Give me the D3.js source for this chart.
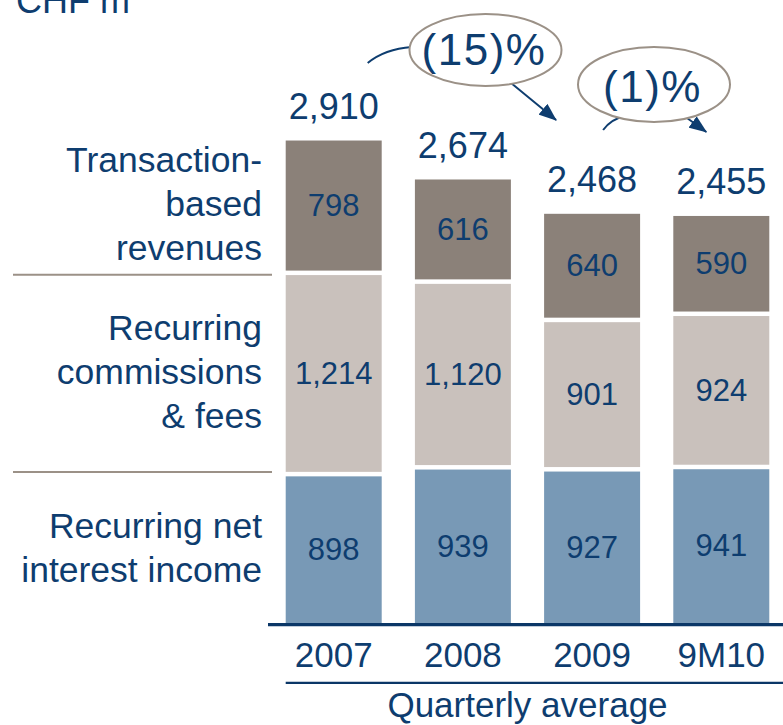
<!DOCTYPE html>
<html>
<head>
<meta charset="utf-8">
<script src="https://cdn.jsdelivr.net/npm/d3@7"></script>
<style>
  html, body { margin: 0; padding: 0; background: #fff; }
  svg { display: block; }
  text { font-family: "Liberation Sans", Arial, Helvetica, sans-serif; fill: #0e3d6f; }
</style>
</head>
<body>
<svg id="chart" width="783" height="725"></svg>
<script>
// ---- data ----
const categories = ["2007", "2008", "2009", "9M10"];
const netInterest = [898, 939, 927, 941];
const commissions = [1214, 1120, 901, 924];
const transaction = [798, 616, 640, 590];
const totals = [2910, 2674, 2468, 2455];
const seriesLabels = [
  ["Recurring net", "interest income"],
  ["Recurring", "commissions", "& fees"],
  ["Transaction-", "based", "revenues"]
];
const changeLabels = ["(15)%", "(1)%"];
const unitLabel = "CHF m";
const axisNote = "Quarterly average";

// ---- styles ----
const colors = ["#7899b6", "#c9c1bc", "#8b8179"];
const navy = "#0e3d6f";
const taupe = "#9b9187";

const svg = d3.select("#chart");
const W = 783, H = 725;

const x = d3.scaleBand()
  .domain(categories)
  .range([269.1, 785.9])
  .paddingInner(0.257)
  .paddingOuter(0.1285);

const y = d3.scaleLinear().domain([0, 3000]).range([623, 125.6]);

const seriesVals = [netInterest, commissions, transaction];
const gap = 4.5;

// stack
const rows = categories.map((c, i) => ({ cat: c, s0: netInterest[i], s1: commissions[i], s2: transaction[i] }));
const stack = d3.stack().keys(["s0", "s1", "s2"])(rows);

const segs = [];
stack.forEach((layer, li) => {
  layer.forEach((d, ci) => {
    const top = y(d[1]) + (li < stack.length - 1 ? gap / 2 : 0);
    const bottom = y(d[0]) - (li > 0 ? gap / 2 : 0);
    segs.push({ li, ci, cat: categories[ci], v: seriesVals[li][ci], top, bottom });
  });
});

// bars
svg.append("g").selectAll("rect").data(segs).join("rect")
  .attr("x", d => x(d.cat))
  .attr("width", x.bandwidth())
  .attr("y", d => d.top)
  .attr("height", d => d.bottom - d.top)
  .attr("fill", d => colors[d.li]);

// segment labels
svg.append("g").selectAll("text").data(segs).join("text")
  .attr("x", d => x(d.cat) + x.bandwidth() / 2)
  .attr("y", d => (d.top + d.bottom) / 2)
  .attr("dy", "0.33em")
  .attr("text-anchor", "middle")
  .style("font-size", "31px")
  .text(d => d3.format(",")(d.v));

// total labels
svg.append("g").selectAll("text").data(categories).join("text")
  .attr("x", d => x(d) + x.bandwidth() / 2)
  .attr("y", (d, i) => y(totals[i]) - 22)
  .attr("text-anchor", "middle")
  .style("font-size", "36px")
  .text((d, i) => d3.format(",")(totals[i]));

// baseline axis
svg.append("line")
  .attr("x1", 268).attr("x2", W)
  .attr("y1", y(0) + 1.6).attr("y2", y(0) + 1.6)
  .attr("stroke", "#0b3767").attr("stroke-width", 3.2);

// category labels
svg.append("g").selectAll("text").data(categories).join("text")
  .attr("x", d => x(d) + x.bandwidth() / 2)
  .attr("y", 667)
  .attr("text-anchor", "middle")
  .style("font-size", "35px")
  .text(d => d);

// quarterly average line + label
const xStart = x(categories[0]);
svg.append("line")
  .attr("x1", xStart).attr("x2", W)
  .attr("y1", 682.8).attr("y2", 682.8)
  .attr("stroke", "#0b3767").attr("stroke-width", 2.2);
svg.append("text")
  .attr("x", (xStart + x(categories[3]) + x.bandwidth()) / 2)
  .attr("y", 717)
  .attr("text-anchor", "middle")
  .style("font-size", "35px")
  .text(axisNote);

// left series labels (aligned to first bar segments)
const firstSegs = segs.filter(d => d.ci === 0);
firstSegs.forEach(s => {
  const lines = seriesLabels[s.li];
  const cy = (s.top + s.bottom) / 2;
  const n = lines.length;
  svg.append("g").selectAll("text").data(lines).join("text")
    .attr("x", 262)
    .attr("y", (d, j) => cy + (j - (n - 1) / 2) * 44)
    .attr("dy", "0.3em")
    .attr("text-anchor", "end")
    .style("font-size", "35.5px")
    .text(d => d);
});

// separator lines
const sepVals = [netInterest[0] + commissions[0], netInterest[0]];
svg.append("g").selectAll("line").data(sepVals).join("line")
  .attr("x1", 13).attr("x2", 272)
  .attr("y1", (d, i) => y(d) + (i === 0 ? 2 : -2))
  .attr("y2", (d, i) => y(d) + (i === 0 ? 2 : -2))
  .attr("stroke", taupe).attr("stroke-width", 2);

// unit label (partly cut at top, as in the source)
svg.append("text")
  .attr("x", 16).attr("y", 13)
  .style("font-size", "36px")
  .text(unitLabel);

// ---- change annotations ----
const defs = svg.append("defs");
defs.append("marker")
  .attr("id", "ah")
  .attr("viewBox", "0 0 18 14")
  .attr("refX", 17).attr("refY", 7)
  .attr("markerWidth", 18).attr("markerHeight", 14)
  .attr("markerUnits", "userSpaceOnUse")
  .attr("orient", "auto")
  .append("path").attr("d", "M0,0 L18,7 L0,14 Z").attr("fill", navy);

const c0 = x(categories[0]) + x.bandwidth() / 2;
const c2 = x(categories[2]) + x.bandwidth() / 2;
const c3 = x(categories[3]) + x.bandwidth() / 2;

const annots = [
  { label: changeLabels[0], cx: 485.5, cy: 50, rx: 76, ry: 36, ty: 64.5, tx: 484,
    path: `M${c0 + 34},63 Q${c0 + 51},49 ${c0 + 78},47 L500,74 L${c2 - 36},120` },
  { label: changeLabels[1], cx: 654, cy: 84.5, rx: 76, ry: 37.5, ty: 101.5, tx: 652.5,
    path: `M${c2 + 11},130 Q${c2 + 19},119 ${c2 + 33},116 L665,102 L${c3 - 15},132` }
];

annots.forEach(a => {
  svg.append("path")
    .attr("d", a.path)
    .attr("fill", "none")
    .attr("stroke", navy)
    .attr("stroke-width", 2)
    .attr("marker-end", "url(#ah)");
});
annots.forEach(a => {
  svg.append("ellipse")
    .attr("cx", a.cx).attr("cy", a.cy).attr("rx", a.rx).attr("ry", a.ry)
    .attr("fill", "#fff").attr("stroke", taupe).attr("stroke-width", 2);
  svg.append("text")
    .attr("x", a.tx).attr("y", a.ty)
    .attr("text-anchor", "middle")
    .style("font-size", "44px")
    .style("letter-spacing", "1.5px")
    .text(a.label);
});
</script>
</body>
</html>
